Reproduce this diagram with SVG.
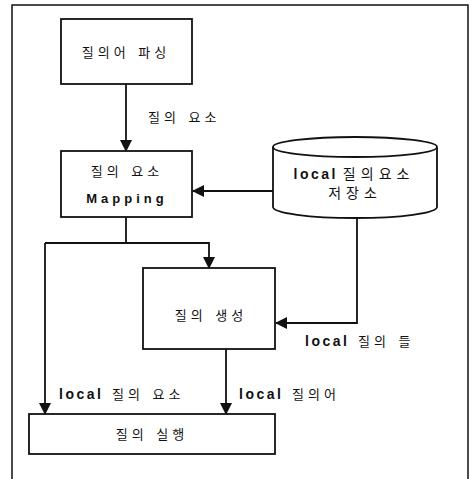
<svg xmlns="http://www.w3.org/2000/svg" width="471" height="479" viewBox="0 0 471 479">
<style>
.box{fill:#fff;stroke:#111;stroke-width:1.8}
.ln{fill:none;stroke:#111;stroke-width:1.8}
.k{font-family:"Liberation Sans","Noto Sans CJK KR",sans-serif;font-size:13px;fill:#111;letter-spacing:4px;word-spacing:1px}
.c{font-family:"Liberation Sans","Noto Sans CJK KR",sans-serif;font-size:14px;fill:#111;letter-spacing:5px;word-spacing:-4px}
.lb{font-weight:bold;letter-spacing:2.5px;font-size:14px}
.b{font-family:"Liberation Sans","Noto Sans CJK KR",sans-serif;font-size:13px;font-weight:bold;fill:#111;letter-spacing:4px}
</style>
<defs>
<marker id="ah" markerWidth="12" markerHeight="12" refX="11" refY="6" orient="auto" markerUnits="userSpaceOnUse">
<path d="M0,0 L12,6 L0,12 Z" fill="#111"/>
</marker>
</defs>
<rect x="12" y="5" width="456" height="480" fill="#fff" stroke="#111" stroke-width="1.5"/>
<g id="connectors">
<path class="ln" d="M126,84 V151" marker-end="url(#ah)"/>
<path class="ln" d="M273,191 H193" marker-end="url(#ah)"/>
<path class="ln" d="M126,217 V243 M45,243 H209 V268" marker-end="url(#ah)"/>
<path class="ln" d="M45,243 V414" marker-end="url(#ah)"/>
<path class="ln" d="M357,218 V323 H276" marker-end="url(#ah)"/>
<path class="ln" d="M226,349 V414" marker-end="url(#ah)"/>
<text class="k" x="148" y="122">질의 요소</text>
<text class="k" x="305" y="346"><tspan class="lb">local</tspan> 질의 들</text>
<text class="k" x="59" y="399"><tspan class="lb">local</tspan> 질의 요소</text>
<text class="k" x="239" y="399"><tspan class="lb">local</tspan> 질의어</text>
</g>
<g id="parse">
<rect class="box" x="61" y="19" width="131" height="65"/>
<text class="k" x="126" y="57" text-anchor="middle">질의어 파싱</text>
</g>
<g id="mapping">
<rect class="box" x="61" y="151" width="131" height="66"/>
<text class="k" x="127" y="176" text-anchor="middle">질의 요소</text>
<text class="b" x="127" y="203" text-anchor="middle">Mapping</text>
</g>
<g id="store">
<path class="box" d="M273,147 V207 A82,11 0 0 0 437,207 V147"/>
<ellipse class="box" cx="355" cy="147" rx="82" ry="10"/>
<text class="c" x="354" y="179" text-anchor="middle"><tspan class="lb">local</tspan> 질의요소</text>
<text class="c" x="355" y="198" text-anchor="middle">저장소</text>
</g>
<g id="generate">
<rect class="box" x="143" y="268" width="132" height="81"/>
<text class="k" x="211" y="320" text-anchor="middle">질의 생성</text>
</g>
<g id="execute">
<rect class="box" x="29" y="414" width="246" height="40"/>
<text class="k" x="152" y="439" text-anchor="middle">질의 실행</text>
</g>
</svg>
